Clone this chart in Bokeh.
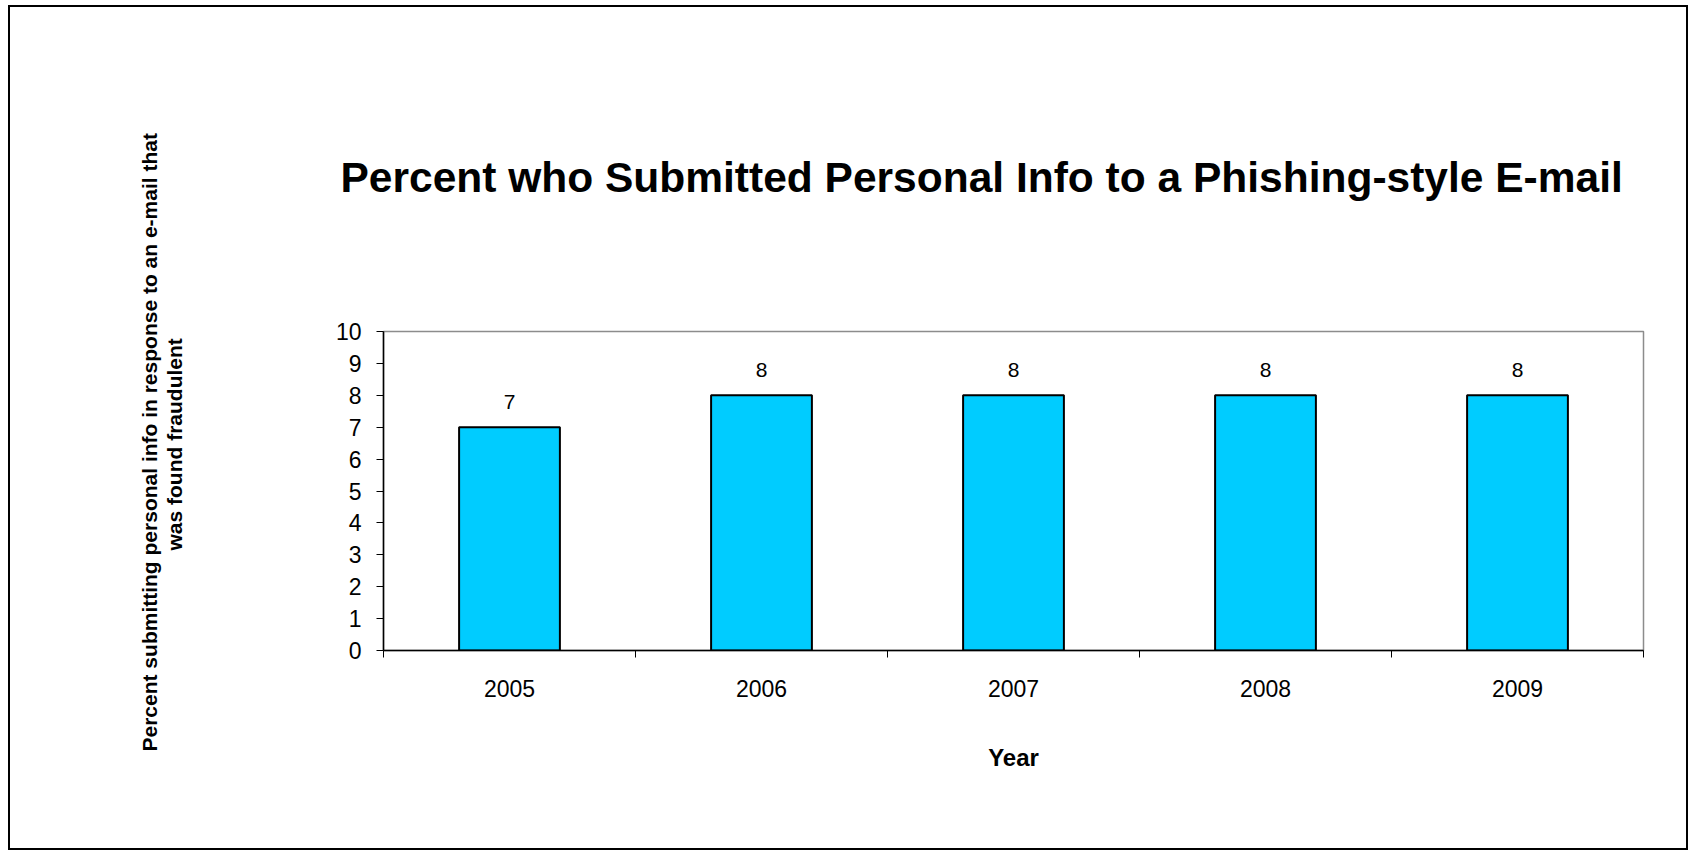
from bokeh.plotting import figure
from bokeh.models import ColumnDataSource, Range1d, FixedTicker, LabelSet, Title
from bokeh.core.properties import value
from bokeh.embed import file_html
from bokeh.resources import INLINE

# ---- data ----
years = ["2005", "2006", "2007", "2008", "2009"]
percent = [7, 8, 8, 8, 8]
y_ticks = [0, 1, 2, 3, 4, 5, 6, 7, 8, 9, 10]

title_text = "Percent who Submitted Personal Info to a Phishing-style E-mail"
ylabel_lines = ["Percent submitting personal info in response to an e-mail that",
                "was found fraudulent"]
xlabel_text = "Year"

FONT = "Liberation Sans"
MX, MY = 10, 7                # page offset of the chart box
W, H = 1676, 841              # chart box size
FL, FR, FT, FB = 383 - MX, 1643 - MX, 331 - MY, 650 - MY   # frame edges inside the box

xpos = [i + 0.5 for i in range(len(years))]
src = ColumnDataSource(dict(x=xpos, top=percent, lab=[str(v) for v in percent]))

p = figure(width=W, height=H, output_backend="svg", toolbar_location=None,
           x_range=Range1d(0, len(years)), y_range=Range1d(0, 10),
           min_border_left=FL, min_border_right=W - FR,
           min_border_top=FT, min_border_bottom=H - FB)
p.margin = (MY, 0, 0, MX)
p.styles = {"outline": "2.5px solid black", "outline-offset": "0px"}
p.background_fill_color = "white"
p.border_fill_color = "white"
p.outline_line_color = "#8c8c8c"
p.outline_line_width = 1.5
p.xgrid.visible = False
p.ygrid.visible = False

p.vbar(x="x", top="top", bottom=0, width=0.4, source=src,
       fill_color="#00CCFF", line_color="black", line_width=2)

labels = LabelSet(x="x", y="top", text="lab", source=src, text_align="center",
                  text_baseline="alphabetic", y_offset=18.5,
                  text_font=value(FONT), text_font_size="21px", text_color="black")
p.add_layout(labels)

# axes
xa = p.xaxis[0]
xa.ticker = FixedTicker(ticks=xpos, minor_ticks=list(range(len(years) + 1)))
xa.major_label_overrides = {xv: y for xv, y in zip(xpos, years)}
xa.major_tick_line_color = None
xa.minor_tick_line_color = "black"
xa.minor_tick_out = 7
xa.minor_tick_in = 0
xa.axis_line_color = "black"
xa.axis_line_width = 1.5
xa.major_label_text_font = FONT
xa.major_label_text_font_size = "23px"
xa.major_label_text_color = "black"
xa.major_label_standoff = 22
xa.axis_label = xlabel_text
xa.axis_label_text_font = FONT
xa.axis_label_text_font_style = "bold"
xa.axis_label_text_font_size = "24px"
xa.axis_label_text_color = "black"
xa.axis_label_standoff = 44

ya = p.yaxis[0]
ya.ticker = FixedTicker(ticks=y_ticks)
ya.major_tick_out = 7
ya.major_tick_in = 0
ya.minor_tick_line_color = None
ya.axis_line_color = "black"
ya.axis_line_width = 1.5
ya.major_tick_line_color = "black"
ya.major_label_text_font = FONT
ya.major_label_text_font_size = "23px"
ya.major_label_text_color = "black"
ya.major_label_standoff = 15


def spacer(gap):
    return Title(text=" ", standoff=gap, text_font_size="1px", text_color="white")


# main title (spacer keeps it away from the frame)
p.add_layout(spacer(128), "above")
p.add_layout(Title(text=title_text, align="left", offset=-43, standoff=0,
                   text_font=FONT, text_font_style="bold", text_font_size="42.5px",
                   text_color="black"), "above")

# y label: two lines, inner line first
p.add_layout(spacer(144), "left")
p.add_layout(Title(text=ylabel_lines[1], align="left", offset=100, standoff=0,
                   text_font=FONT, text_font_style="bold", text_font_size="21px",
                   text_color="black"), "left")
p.add_layout(Title(text=ylabel_lines[0], align="left", offset=-101, standoff=0,
                   text_font=FONT, text_font_style="bold", text_font_size="21px",
                   text_color="black"), "left")

open("out.html", "w").write(file_html(p, INLINE))
